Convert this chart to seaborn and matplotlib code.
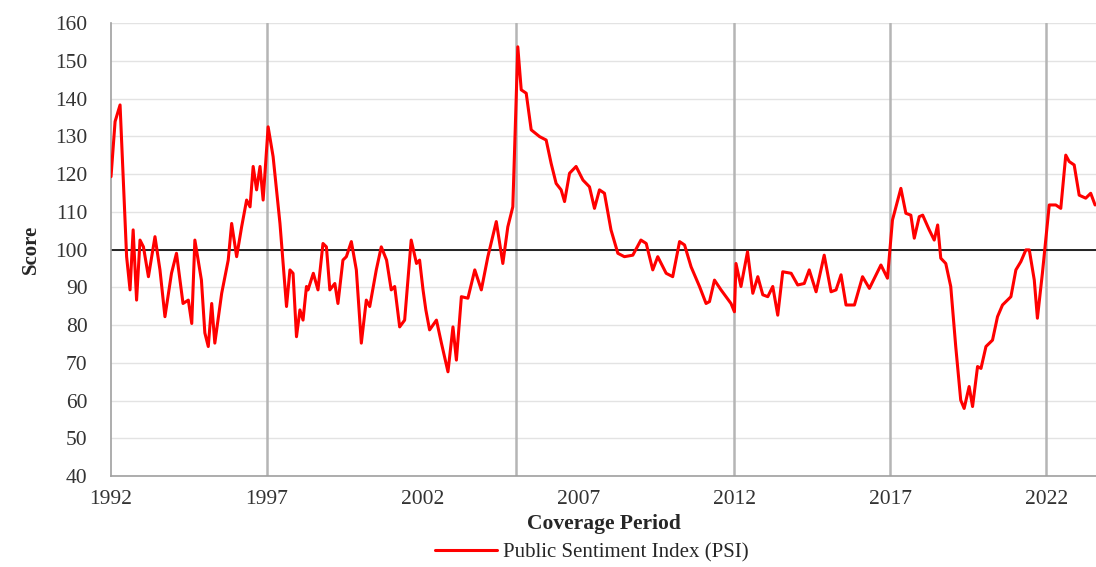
import matplotlib
matplotlib.use("Agg")
import matplotlib.pyplot as plt
import seaborn as sns
import pandas as pd

# monthly-ish readings of the index (decimal year, score)
period = [
    1992.00, 1992.13, 1992.29, 1992.50, 1992.61, 1992.71, 1992.82, 1992.93,
    1993.04, 1993.20, 1993.41, 1993.57, 1993.73, 1993.94, 1994.10, 1994.31,
    1994.48, 1994.59, 1994.69, 1994.90, 1995.01, 1995.12, 1995.23, 1995.33,
    1995.55, 1995.76, 1995.87, 1996.03, 1996.19, 1996.35, 1996.46, 1996.56,
    1996.67, 1996.78, 1996.88, 1997.04, 1997.20, 1997.42, 1997.63, 1997.74,
    1997.84, 1997.95, 1998.06, 1998.16, 1998.27, 1998.32, 1998.49, 1998.64,
    1998.80, 1998.91, 1999.02, 1999.18, 1999.28, 1999.44, 1999.55, 1999.71,
    1999.87, 2000.03, 2000.19, 2000.30, 2000.51, 2000.67, 2000.84, 2000.99,
    2001.10, 2001.26, 2001.42, 2001.63, 2001.80, 2001.90, 2002.01, 2002.10,
    2002.22, 2002.44, 2002.60, 2002.81, 2002.97, 2003.08, 2003.24, 2003.45,
    2003.67, 2003.88, 2004.09, 2004.36, 2004.57, 2004.73, 2004.89, 2005.05,
    2005.16, 2005.32, 2005.48, 2005.75, 2005.96, 2006.12, 2006.28, 2006.44,
    2006.55, 2006.71, 2006.92, 2007.14, 2007.35, 2007.51, 2007.67, 2007.83,
    2008.04, 2008.26, 2008.47, 2008.74, 2009.00, 2009.17, 2009.38, 2009.54,
    2009.81, 2010.02, 2010.24, 2010.40, 2010.61, 2010.88, 2011.09, 2011.20,
    2011.36, 2011.57, 2011.73, 2011.89, 2012.00, 2012.05, 2012.21, 2012.42,
    2012.59, 2012.75, 2012.91, 2013.07, 2013.23, 2013.39, 2013.55, 2013.82,
    2014.03, 2014.24, 2014.40, 2014.62, 2014.88, 2015.10, 2015.26, 2015.42,
    2015.58, 2015.85, 2016.11, 2016.33, 2016.70, 2016.91, 2017.07, 2017.34,
    2017.50, 2017.66, 2017.77, 2017.93, 2018.04, 2018.25, 2018.41, 2018.52,
    2018.62, 2018.78, 2018.94, 2019.10, 2019.26, 2019.37, 2019.53, 2019.64,
    2019.80, 2019.91, 2020.07, 2020.28, 2020.44, 2020.60, 2020.87, 2021.03,
    2021.19, 2021.35, 2021.46, 2021.62, 2021.72, 2021.88, 2022.10, 2022.31,
    2022.47, 2022.63, 2022.74, 2022.90, 2023.06, 2023.27, 2023.43, 2023.57,
]
psi = [
    119.3, 133.9, 138.3, 98.1, 89.3, 105.2, 86.6, 102.5,
    100.7, 92.8, 103.4, 94.6, 82.2, 93.7, 99.0, 85.7,
    86.6, 80.4, 102.5, 91.9, 77.9, 74.3, 85.7, 75.2,
    88.4, 97.2, 106.9, 98.1, 106.0, 113.1, 111.3, 122.0,
    115.8, 122.0, 113.1, 132.5, 124.6, 106.9, 84.9, 94.6,
    93.7, 76.9, 84.0, 81.3, 90.2, 89.3, 93.7, 89.3,
    101.6, 100.7, 89.3, 91.0, 85.7, 97.2, 98.1, 102.1,
    94.6, 75.2, 86.6, 84.9, 94.6, 100.7, 97.2, 89.3,
    90.2, 79.5, 81.3, 102.5, 96.3, 97.2, 89.3, 84.0,
    78.7, 81.3, 75.2, 67.6, 79.5, 70.7, 87.5, 87.1,
    94.6, 89.3, 98.1, 107.4, 96.3, 106.0, 111.3, 153.7,
    142.3, 141.4, 131.7, 129.9, 129.0, 122.8, 117.5, 115.8,
    112.7, 120.2, 122.0, 118.4, 116.6, 110.9, 115.8, 114.9,
    105.2, 99.0, 98.1, 98.5, 102.5, 101.6, 94.6, 98.1,
    93.7, 92.8, 102.1, 101.2, 95.4, 90.2, 85.7, 86.2,
    91.9, 89.3, 87.5, 85.7, 83.5, 96.3, 90.2, 99.4,
    88.4, 92.8, 88.0, 87.5, 90.2, 82.6, 94.1, 93.7,
    90.6, 91.0, 94.6, 88.8, 98.5, 88.8, 89.3, 93.3,
    85.3, 85.3, 92.8, 89.7, 95.9, 92.4, 107.8, 116.2,
    109.6, 109.1, 103.0, 108.7, 109.1, 105.2, 102.5, 106.5,
    97.7, 96.3, 90.2, 74.3, 60.1, 57.9, 63.7, 58.4,
    69.0, 68.5, 74.3, 76.0, 82.2, 85.3, 87.5, 94.6,
    96.8, 99.9, 99.9, 91.9, 81.8, 93.7, 111.8, 111.8,
    110.9, 125.0, 123.3, 122.4, 114.4, 113.6, 114.9, 111.8,
]
event_years = [1997, 2005, 2012, 2017, 2022]
x_ticks = [1992, 1997, 2002, 2007, 2012, 2017, 2022]
y_ticks = list(range(40, 161, 10))

df = pd.DataFrame({"period": period, "psi": psi})

sns.set_style("white")
plt.rcParams["font.family"] = ["Liberation Serif", "DejaVu Serif"]

fig = plt.figure(figsize=(10.96, 5.67), dpi=100)
ax = fig.add_axes([0.1013, 0.1605, 0.8987, 0.7989])

# horizontal grid
for yv in y_ticks:
    ax.axhline(yv, color="#e3e3e3", lw=1.0, zorder=0)
# event markers
for ev in event_years:
    ax.axvline(ev, color="#b5b5b5", lw=1.8, zorder=1)
ax.axhline(100, color="black", lw=1.2, zorder=2)

sns.lineplot(data=df, x="period", y="psi", color="#ff0000", lw=2.2, ax=ax,
             label="Public Sentiment Index (PSI)", zorder=3)

ax.set_xlim(1992, 2023.6)
ax.set_ylim(40, 160)
ax.set_xticks(x_ticks)
ax.set_yticks(y_ticks)
ax.tick_params(axis="both", labelsize=15.5, colors="#333333", length=4, width=1,
               color="#a0a0a0")
ax.tick_params(axis="x", pad=6)
ax.tick_params(axis="y", length=0, pad=17)

for side in ["top", "right"]:
    ax.spines[side].set_visible(False)
for side in ["left", "bottom"]:
    ax.spines[side].set_color("#a0a0a0")
    ax.spines[side].set_linewidth(1.2)

ax.set_xlabel("Coverage Period", fontsize=15.5, fontweight="bold", labelpad=4)
ax.set_ylabel("Score", fontsize=15, fontweight="bold", labelpad=10)

ax.legend_.remove()
handles, labels = ax.get_legend_handles_labels()
fig.legend(handles, labels, loc="center", bbox_to_anchor=(0.54, 0.025),
           frameon=False, fontsize=15, handlelength=3.0, handletextpad=0.3)

fig.savefig("out.png", dpi=100)
